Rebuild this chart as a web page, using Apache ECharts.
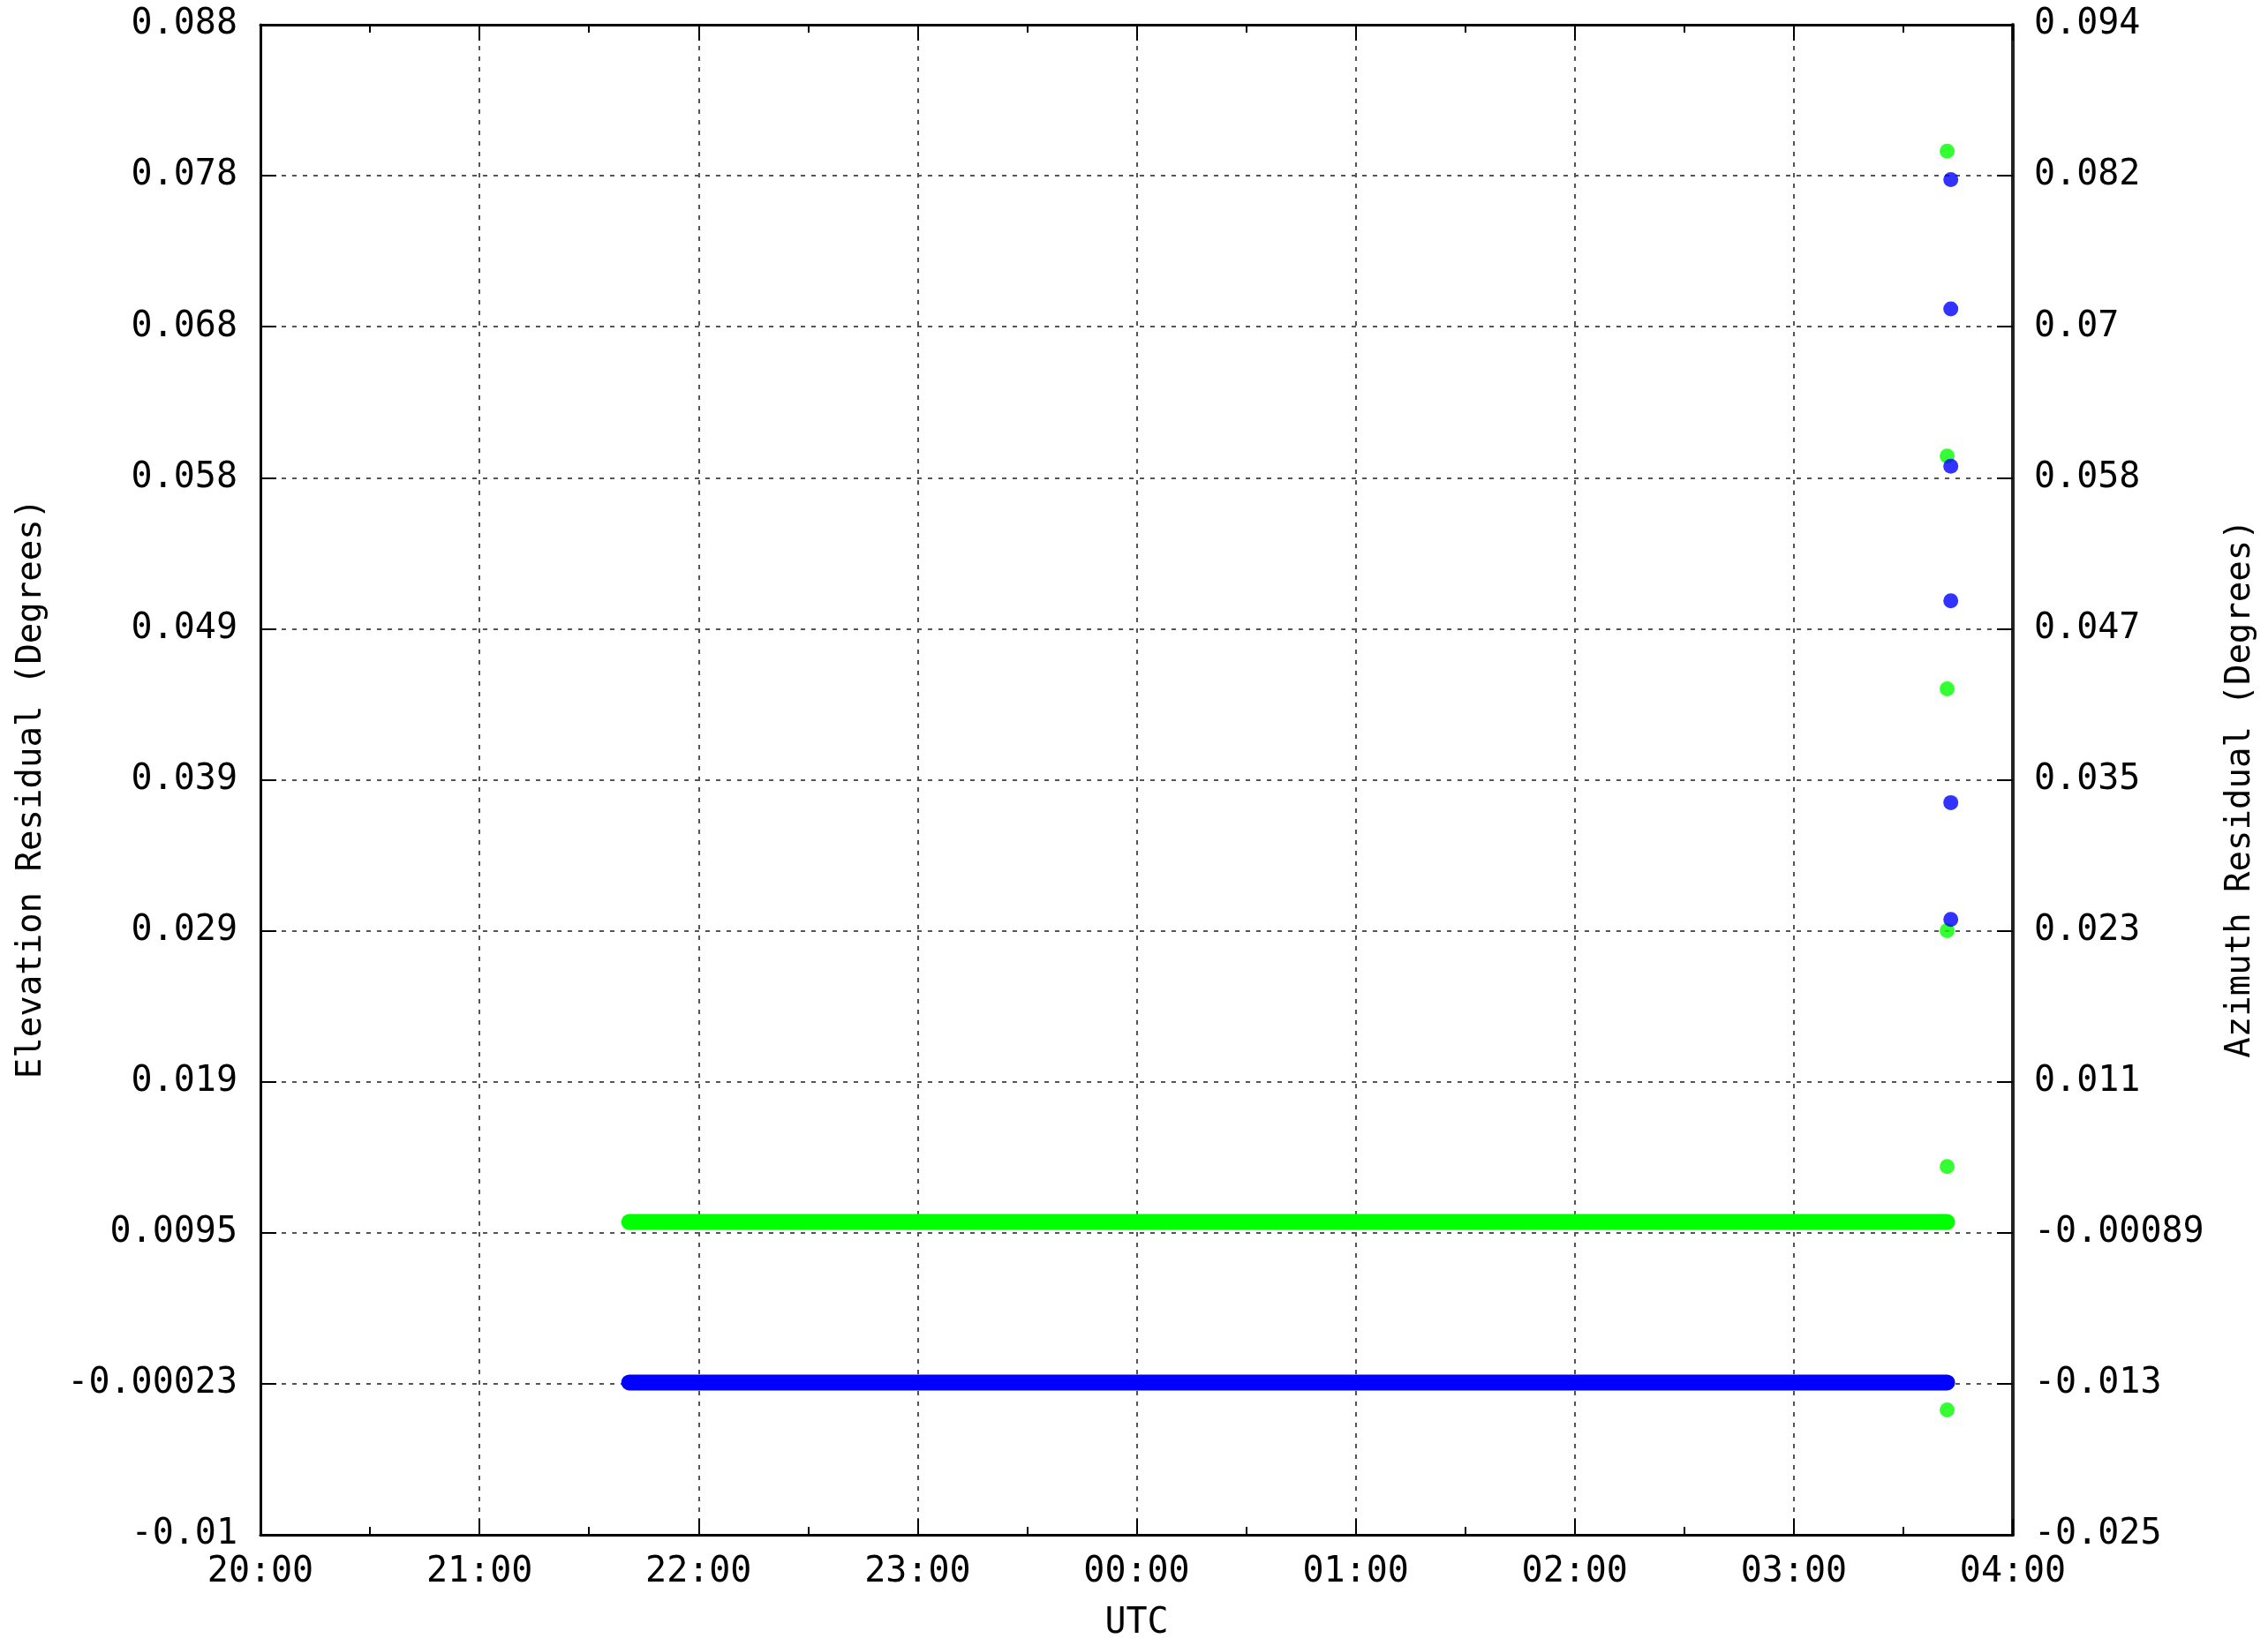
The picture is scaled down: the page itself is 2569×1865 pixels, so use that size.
<!DOCTYPE html>
<html>
<head>
<meta charset="utf-8">
<script src="https://cdn.jsdelivr.net/npm/echarts@6/dist/echarts.min.js"></script>
<style>
html,body{margin:0;padding:0;background:#fff;}
#chart{width:2569px;height:1865px;}
</style>
</head>
<body>
<div id="chart"></div>
<script>
// ---- data ----
const xRange = ['20:00', '04:00'];
const xTickLabels = ['20:00','21:00','22:00','23:00','00:00','01:00','02:00','03:00','04:00'];

const leftTickLabels  = ['-0.01','-0.00023','0.0095','0.019','0.029','0.039','0.049','0.058','0.068','0.078','0.088'];
const rightTickLabels = ['-0.025','-0.013','-0.00089','0.011','0.023','0.035','0.047','0.058','0.07','0.082','0.094'];
const leftMin = -0.01, leftMax = 0.088, leftStep = 0.0098;
const rightMin = -0.025, rightMax = 0.094, rightStep = 0.0119;

// Elevation residual (green, left axis)
const elevBandTimes  = ['21:41', '03:42'];
const elevBandValues = [0.0103, 0.0103];
const elevOutlierTimes  = ['03:42','03:42','03:42','03:42','03:42','03:42'];
const elevOutlierValues = [0.0798, 0.0600, 0.0449, 0.0292, 0.0139, -0.0019];

// Azimuth residual (blue, right axis)
const azBandTimes  = ['21:41', '03:42'];
const azBandValues = [-0.0130, -0.0130];
const azOutlierTimes  = ['03:43','03:43','03:43','03:43','03:43','03:43'];
const azOutlierValues = [0.0818, 0.0716, 0.0592, 0.0486, 0.0327, 0.0235];

// ---- helpers ----
function toHours(t) {
  const p = t.split(':');
  let h = parseInt(p[0], 10) + parseInt(p[1], 10) / 60;
  if (h < 12) h += 24; // after midnight
  return h;
}
function pairs(times, values) {
  return times.map((t, i) => [toHours(t), values[i]]);
}
const xMin = toHours(xRange[0]);
const xMax = toHours(xRange[1]);

const FONT = 'DejaVu Sans Mono';
const FS = 40;
const GREEN = '#00ff00';
const BLUE = '#0000ff';

const gridLine = { show: true, lineStyle: { color: '#555', width: 2, type: [5, 7] } };

const chart = echarts.init(document.getElementById('chart'), null, { renderer: 'canvas' });
chart.setOption({
  backgroundColor: '#ffffff',
  animation: false,
  grid: { left: 295, right: 289, top: 28, bottom: 118, containLabel: false },
  xAxis: [
    {
      type: 'value', position: 'bottom', min: xMin, max: xMax, interval: 1,
      name: 'UTC', nameLocation: 'middle', nameGap: 81,
      nameTextStyle: { fontFamily: FONT, fontSize: FS, color: '#000' },
      axisLine: { show: true, onZero: false, lineStyle: { color: '#000', width: 3 } },
      axisTick: { show: true, inside: true, length: 18, lineStyle: { color: '#000', width: 2 } },
      minorTick: { show: true, splitNumber: 2, length: 9, lineStyle: { color: '#000', width: 2 } },
      axisLabel: {
        show: true, margin: 23, fontFamily: FONT, fontSize: FS, color: '#000',
        formatter: v => xTickLabels[Math.round(v - xMin)]
      },
      splitLine: gridLine
    },
    {
      type: 'value', position: 'top', min: xMin, max: xMax, interval: 1,
      axisLine: { show: true, onZero: false, lineStyle: { color: '#000', width: 3 } },
      axisTick: { show: true, inside: true, length: 18, lineStyle: { color: '#000', width: 2 } },
      minorTick: { show: true, splitNumber: 2, length: 9, lineStyle: { color: '#000', width: 2 } },
      axisLabel: { show: false },
      splitLine: { show: false }
    }
  ],
  yAxis: [
    {
      type: 'value', position: 'left', min: leftMin, max: leftMax, interval: leftStep,
      name: 'Elevation Residual (Degrees)', nameLocation: 'middle', nameGap: 240, nameRotate: 90,
      nameTextStyle: { fontFamily: FONT, fontSize: 39, color: '#000', padding: [0, 20, 0, 0] },
      axisLine: { show: true, onZero: false, lineStyle: { color: '#000', width: 3 } },
      axisTick: { show: true, inside: true, length: 18, lineStyle: { color: '#000', width: 2 } },
      axisLabel: {
        show: true, margin: 26, fontFamily: FONT, fontSize: FS, color: '#000',
        formatter: v => leftTickLabels[Math.round((v - leftMin) / leftStep)]
      },
      splitLine: gridLine
    },
    {
      type: 'value', position: 'right', min: rightMin, max: rightMax, interval: rightStep,
      name: 'Azimuth Residual (Degrees)', nameLocation: 'middle', nameGap: 238, nameRotate: 90,
      nameTextStyle: { fontFamily: FONT, fontSize: 39, color: '#000', padding: [0, 20, 0, 0] },
      axisLine: { show: true, onZero: false, lineStyle: { color: '#222', width: 4 } },
      axisTick: { show: true, inside: true, length: 18, lineStyle: { color: '#000', width: 2 } },
      axisLabel: {
        show: true, margin: 24, fontFamily: FONT, fontSize: FS, color: '#000',
        formatter: v => rightTickLabels[Math.round((v - rightMin) / rightStep)]
      },
      splitLine: { show: false }
    }
  ],
  series: [
    {
      type: 'line', name: 'Elevation', xAxisIndex: 0, yAxisIndex: 0,
      data: pairs(elevBandTimes, elevBandValues),
      showSymbol: false, symbol: 'none',
      lineStyle: { color: GREEN, width: 18, cap: 'round' }, z: 3
    },
    {
      type: 'scatter', name: 'Elevation outliers', xAxisIndex: 0, yAxisIndex: 0,
      data: pairs(elevOutlierTimes, elevOutlierValues),
      symbol: 'circle', symbolSize: 17, itemStyle: { color: GREEN }, z: 3
    },
    {
      type: 'line', name: 'Azimuth', xAxisIndex: 0, yAxisIndex: 1,
      data: pairs(azBandTimes, azBandValues),
      showSymbol: false, symbol: 'none',
      lineStyle: { color: BLUE, width: 18, cap: 'round' }, z: 3
    },
    {
      type: 'scatter', name: 'Azimuth outliers', xAxisIndex: 0, yAxisIndex: 1,
      data: pairs(azOutlierTimes, azOutlierValues),
      symbol: 'circle', symbolSize: 17, itemStyle: { color: BLUE }, z: 3
    }
  ]
});
</script>
</body>
</html>
